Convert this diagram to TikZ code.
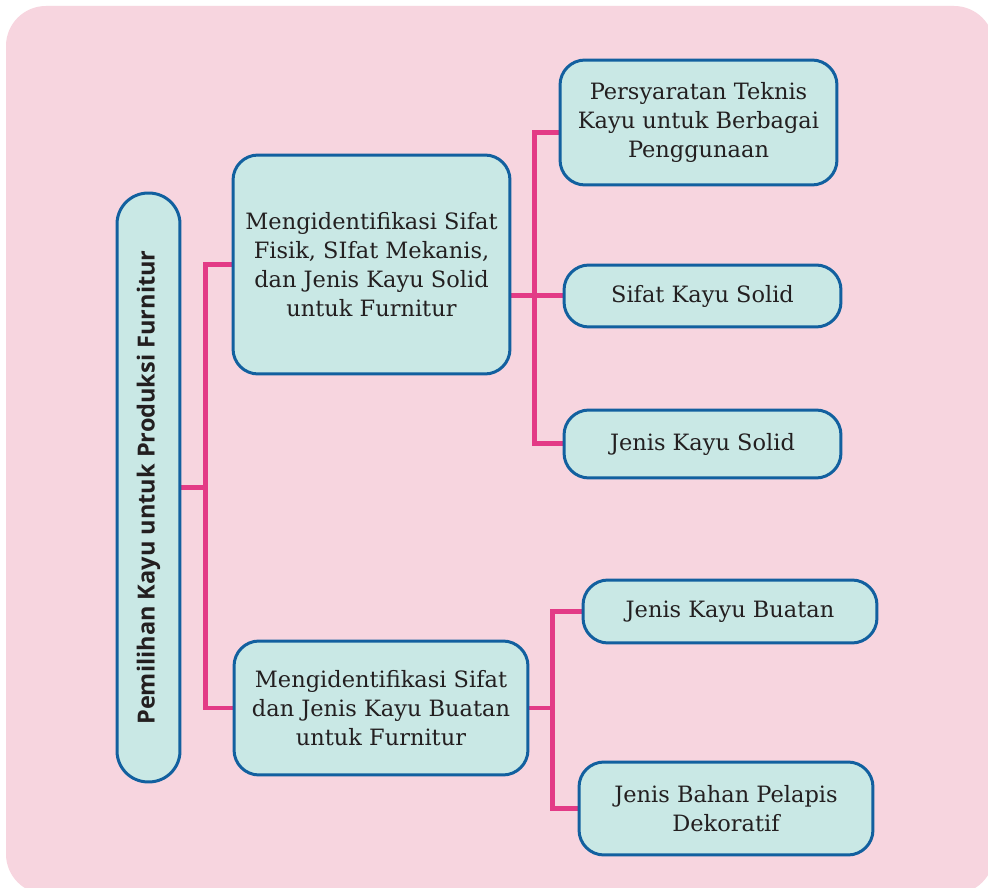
\documentclass[tikz,border=0pt]{standalone}
\usepackage{fontspec}
\setmainfont{DejaVu Serif}
\newfontfamily\titlefont{Open Sans}
\usepackage{tikz}
\usetikzlibrary{backgrounds}
\definecolor{bgpink}{HTML}{F7D5DF}
\definecolor{boxfill}{HTML}{C9E8E5}
\definecolor{boxline}{HTML}{12609F}
\definecolor{linkpink}{HTML}{E33A86}
\definecolor{txt}{HTML}{231F20}
\tikzset{
         topic/.style={draw=boxline, fill=boxfill, line width=0.06cm, rounded corners=0.5cm,
                       align=center, text=txt, inner sep=0pt, font=\fontsize{12.8}{16.5}\selectfont},
         roottopic/.style={topic, rotate=90, rounded corners=0.62cm,
                           font=\titlefont\bfseries\fontsize{13.4}{16}\selectfont},
         link/.style={draw=linkpink, line width=0.1cm},
}

\begin{document}
\begin{tikzpicture}[x=0.02cm, y=-0.02cm]
    \useasboundingbox (0,0) rectangle (988,888);

    % Wurzel (gedreht: .south ist rechts)
    \node[roottopic, minimum width=11.78cm, minimum height=1.26cm] (root) at (148.5,487.5)
        {Pemilihan Kayu untuk Produksi Furnitur};

    % Ebene 1
    \node[topic, minimum width=5.54cm, minimum height=4.38cm] (a) at (371.5,264.5)
        {Mengidentifikasi Sifat\\Fisik, SIfat Mekanis,\\dan Jenis Kayu Solid\\untuk Furnitur};
    \node[topic, minimum width=5.88cm, minimum height=2.68cm] (b) at (381,708)
        {Mengidentifikasi Sifat\\dan Jenis Kayu Buatan\\untuk Furnitur};

    % Ebene 2
    \node[topic, minimum width=5.54cm, minimum height=2.5cm] (a1) at (698.5,122.5)
        {Persyaratan Teknis\\Kayu untuk Berbagai\\Penggunaan};
    \node[topic, minimum width=5.54cm, minimum height=1.24cm] (a2) at (702.5,296)
        {Sifat Kayu Solid};
    \node[topic, minimum width=5.54cm, minimum height=1.36cm] (a3) at (702.5,444)
        {Jenis Kayu Solid};
    \node[topic, minimum width=5.88cm, minimum height=1.26cm] (b1) at (730,611.5)
        {Jenis Kayu Buatan};
    \node[topic, minimum width=5.88cm, minimum height=1.86cm] (b2) at (726,808.5)
        {Jenis Bahan Pelapis\\Dekoratif};

    \begin{scope}[on background layer]
        \fill[white] (0,0) rectangle (988,888);
        \fill[bgpink, rounded corners=0.8cm] (6,6) rectangle (994,894);

        % Verbindungen
        \draw[link] (root.south) -- ++(24,0) coordinate (t1);
        \draw[link] (t1) |- (a.west);
        \draw[link] (t1) |- (b.west);

        \draw[link] (a.east |- a2.west) -- ++(23,0) coordinate (t2);
        \draw[link] (t2) |- ([yshift=-0.2cm]a1.west);
        \draw[link] (t2) -- (a2.west);
        \draw[link] (t2) |- (a3.west);

        \draw[link] (b.east) -- ++(23,0) coordinate (t3);
        \draw[link] (t3) |- (b1.west);
        \draw[link] (t3) |- (b2.west);
    \end{scope}
\end{tikzpicture}
\end{document}
